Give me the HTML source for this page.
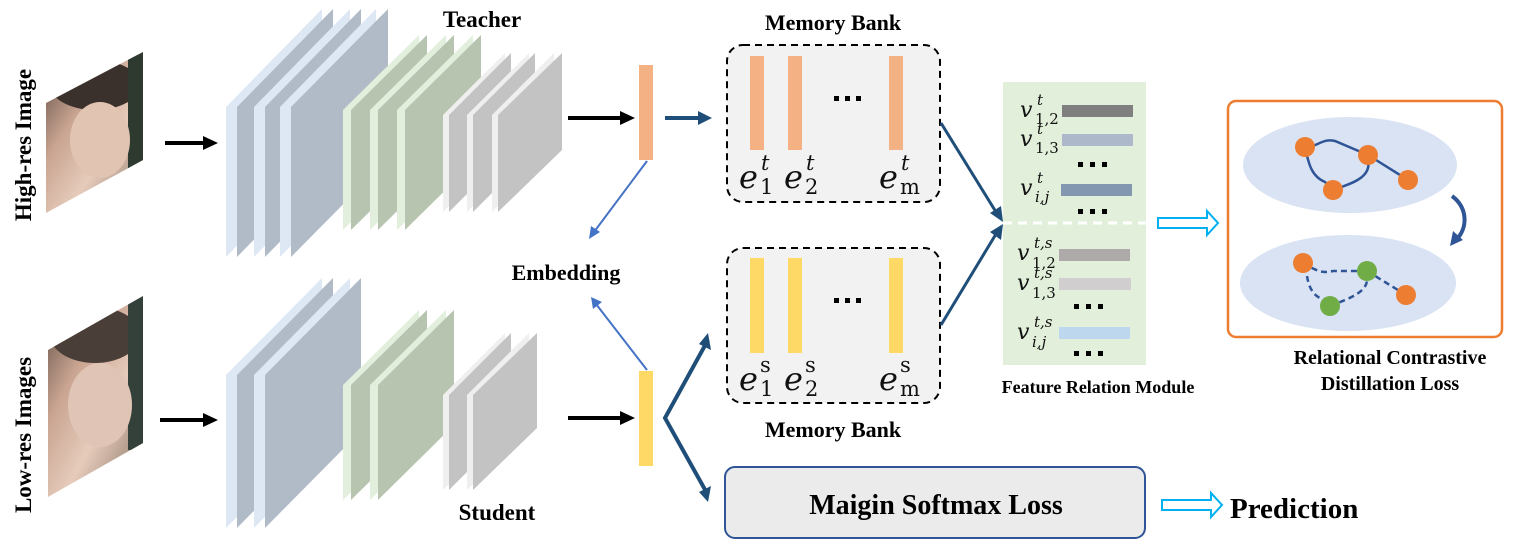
<!DOCTYPE html>
<html><head><meta charset="utf-8"><style>
html,body{margin:0;padding:0;background:#fff;}
svg{display:block;}
.b{font-family:"Liberation Serif",serif;font-weight:bold;fill:#000;}
.m{font-family:"DejaVu Serif","Liberation Serif",serif;font-style:italic;fill:#111;}
.n{font-style:normal;}
</style></head><body>
<svg width="1529" height="557" viewBox="0 0 1529 557" xmlns="http://www.w3.org/2000/svg">
<defs>
<linearGradient id="face" x1="0" y1="0" x2="1" y2="1">
<stop offset="0" stop-color="#4a3d36"/><stop offset="0.35" stop-color="#c9a491"/><stop offset="0.6" stop-color="#e6cbbb"/><stop offset="0.85" stop-color="#a08a7a"/><stop offset="1" stop-color="#5d6a5a"/></linearGradient>
<clipPath id="c1"><polygon points="46,103 143,52 143,160 46,213"/></clipPath>
<clipPath id="c2"><polygon points="48,350 143,296 143,443 48,497"/></clipPath>
</defs>
<text class="b" font-size="23" transform="translate(31,145) rotate(-90)" text-anchor="middle">High-res Image</text>
<text class="b" font-size="23" transform="translate(31,435) rotate(-90)" text-anchor="middle">Low-res Images</text>
<g clip-path="url(#c1)">
<rect x="40" y="50" width="110" height="170" fill="url(#face)"/>
<ellipse cx="95" cy="85" rx="45" ry="25" fill="#3a302c"/>
<rect x="128" y="50" width="16" height="120" fill="#2e3a30"/>
<ellipse cx="100" cy="140" rx="30" ry="38" fill="#e2c4b3"/>
</g>
<g clip-path="url(#c2)">
<rect x="40" y="290" width="110" height="210" fill="url(#face)"/>
<ellipse cx="95" cy="335" rx="45" ry="28" fill="#4a3e38"/>
<rect x="128" y="290" width="16" height="160" fill="#34403a"/>
<ellipse cx="100" cy="405" rx="32" ry="42" fill="#e0c4b5"/>
</g>
<line x1="165" y1="143" x2="205" y2="143" stroke="#000" stroke-width="4"/>
<polygon points="218,143 203,136 203,150" fill="#000"/>
<line x1="160" y1="420" x2="205" y2="420" stroke="#000" stroke-width="4"/>
<polygon points="218,420 203,413 203,427" fill="#000"/>
<g>
<polygon points="226,107 322,9 322,159 226,257" fill="#dde8f4"/><polygon points="237,107 333,9 333,159 237,257" fill="#b0bbc7"/>
<polygon points="254,107 350,9 350,159 254,257" fill="#dde8f4"/><polygon points="265,107 361,9 361,159 265,257" fill="#b0bbc7"/>
<polygon points="280,107 376,9 376,159 280,257" fill="#dde8f4"/><polygon points="291,107 388,9 388,159 291,257" fill="#b0bbc7"/>
<polygon points="343,110 419,35 419,155 343,230" fill="#e2efdc"/><polygon points="351,110 427,35 427,155 351,230" fill="#b6c4b0"/>
<polygon points="370,110 446,35 446,155 370,230" fill="#e2efdc"/><polygon points="378,110 454,35 454,155 378,230" fill="#b6c4b0"/>
<polygon points="397,110 473,35 473,155 397,230" fill="#e2efdc"/><polygon points="405,110 481,35 481,155 405,230" fill="#b6c4b0"/>
<polygon points="443,115 505,53 505,150 443,212" fill="#efefef"/><polygon points="449,115 511,53 511,150 449,212" fill="#c3c3c3"/>
<polygon points="467,115 529,53 529,150 467,212" fill="#efefef"/><polygon points="473,115 535,53 535,150 473,212" fill="#c3c3c3"/>
<polygon points="492,115 554,53 554,150 492,212" fill="#efefef"/><polygon points="498,115 562,53 562,150 498,212" fill="#c3c3c3"/>
</g>
<g>
<polygon points="226,375 322,278 322,431 226,528" fill="#dde8f4"/><polygon points="237,375 333,278 333,431 237,528" fill="#b0bbc7"/>
<polygon points="254,375 350,278 350,431 254,528" fill="#dde8f4"/><polygon points="265,375 361,278 361,431 265,528" fill="#b0bbc7"/>
<polygon points="343,385 419,310 419,425 343,500" fill="#e2efdc"/><polygon points="351,385 427,310 427,425 351,500" fill="#b6c4b0"/>
<polygon points="370,385 446,310 446,425 370,500" fill="#e2efdc"/><polygon points="378,385 454,310 454,425 378,500" fill="#b6c4b0"/>
<polygon points="443,395 505,333 505,428 443,490" fill="#efefef"/><polygon points="449,395 511,333 511,428 449,490" fill="#c3c3c3"/>
<polygon points="467,395 529,333 529,428 467,490" fill="#efefef"/><polygon points="473,395 537,333 537,428 473,490" fill="#c3c3c3"/>
</g>
<text class="b" font-size="23" x="482" y="27" text-anchor="middle">Teacher</text>
<text class="b" font-size="23" x="497" y="520" text-anchor="middle">Student</text>
<text class="b" font-size="22" x="566" y="280" text-anchor="middle">Embedding</text>
<line x1="568" y1="118" x2="622" y2="118" stroke="#000" stroke-width="4"/>
<polygon points="635,118 620,111 620,125" fill="#000"/>
<line x1="568" y1="418" x2="622" y2="418" stroke="#000" stroke-width="4"/>
<polygon points="635,418 620,411 620,425" fill="#000"/>
<rect x="639" y="65" width="14" height="95" fill="#f4b183"/>
<rect x="639" y="371" width="14" height="95" fill="#ffd966"/>
<line x1="647" y1="161" x2="594" y2="232" stroke="#4472c4" stroke-width="2"/>
<polygon points="589,239 591,226 600,232" fill="#4472c4"/>
<line x1="647" y1="370" x2="596" y2="304" stroke="#4472c4" stroke-width="2"/>
<polygon points="591,297 602,302 593,309" fill="#4472c4"/>
<line x1="665" y1="118" x2="700" y2="118" stroke="#1f4e79" stroke-width="4"/>
<polygon points="712,118 698,111 698,125" fill="#1f4e79"/>
<polyline points="708,340 665,418 708,495" fill="none" stroke="#1f4e79" stroke-width="4"/>
<polygon points="708,333 711,350 699,344" fill="#1f4e79"/>
<polygon points="708,502 699,492 711,486" fill="#1f4e79"/>
<text class="b" font-size="22" x="833" y="30" text-anchor="middle">Memory Bank</text>
<rect x="727" y="45" width="213" height="157" rx="16" fill="#f2f2f2" stroke="#000" stroke-width="2" stroke-dasharray="7,5"/>
<rect x="750" y="56" width="14" height="94" fill="#f4b183"/><rect x="788" y="56" width="14" height="94" fill="#f4b183"/><rect x="889" y="56" width="14" height="94" fill="#f4b183"/>
<rect x="727" y="248" width="213" height="155" rx="16" fill="#f2f2f2" stroke="#000" stroke-width="2" stroke-dasharray="7,5"/>
<rect x="750" y="258" width="14" height="95" fill="#ffd966"/><rect x="788" y="258" width="14" height="95" fill="#ffd966"/><rect x="889" y="258" width="14" height="95" fill="#ffd966"/>
<g fill="#000"><rect x="834" y="96" width="5" height="5"/><rect x="845" y="96" width="5" height="5"/><rect x="856" y="96" width="5" height="5"/>
<rect x="834" y="298" width="5" height="5"/><rect x="845" y="298" width="5" height="5"/><rect x="856" y="298" width="5" height="5"/></g>
<g class="m">
<text font-size="32" x="739" y="188">e</text><text font-size="21" x="761" y="170">t</text><text class="n" font-size="21" x="760" y="194">1</text>
<text font-size="32" x="784" y="188">e</text><text font-size="21" x="806" y="170">t</text><text class="n" font-size="21" x="805" y="194">2</text>
<text font-size="32" x="879" y="188">e</text><text font-size="21" x="901" y="170">t</text><text class="n" font-size="21" x="900" y="194">m</text>
<text font-size="32" x="739" y="390">e</text><text class="n" font-size="21" x="760" y="372">s</text><text class="n" font-size="21" x="760" y="396">1</text>
<text font-size="32" x="784" y="390">e</text><text class="n" font-size="21" x="805" y="372">s</text><text class="n" font-size="21" x="805" y="396">2</text>
<text font-size="32" x="879" y="390">e</text><text class="n" font-size="21" x="900" y="372">s</text><text class="n" font-size="21" x="900" y="396">m</text>
</g>
<text class="b" font-size="22" x="833" y="437" text-anchor="middle">Memory Bank</text>
<line x1="941" y1="123" x2="996" y2="212" stroke="#1f4e79" stroke-width="3"/>
<polygon points="1003,222 990,213 1001,206" fill="#1f4e79"/>
<line x1="941" y1="325" x2="996" y2="234" stroke="#1f4e79" stroke-width="3"/>
<polygon points="1003,224 1001,240 990,232" fill="#1f4e79"/>
<rect x="1003" y="82" width="143" height="283" fill="#e2efda"/>
<line x1="1003" y1="223" x2="1146" y2="223" stroke="#fff" stroke-width="3" stroke-dasharray="9,6"/>
<g class="m" font-size="22">
<text x="1020" y="117">v</text><text x="1037" y="105" font-size="15">t</text><text class="n" x="1035" y="124" font-size="15">1,2</text>
<text x="1020" y="146">v</text><text x="1037" y="134" font-size="15">t</text><text class="n" x="1035" y="153" font-size="15">1,3</text>
<text x="1020" y="195">v</text><text x="1037" y="183" font-size="15">t</text><text x="1035" y="202" font-size="15">i,j</text>
<text x="1017" y="260">v</text><text x="1034" y="248" font-size="15">t,s</text><text class="n" x="1032" y="268" font-size="15">1,2</text>
<text x="1017" y="290">v</text><text x="1034" y="278" font-size="15">t,s</text><text class="n" x="1032" y="298" font-size="15">1,3</text>
<text x="1017" y="339">v</text><text x="1034" y="327" font-size="15">t,s</text><text x="1032" y="347" font-size="15">i,j</text>
</g>
<rect x="1062" y="105" width="71" height="12" fill="#7f7f7f"/>
<rect x="1062" y="134" width="71" height="12" fill="#adb9ca"/>
<rect x="1061" y="184" width="71" height="12" fill="#8497b0"/>
<rect x="1059" y="249" width="71" height="12" fill="#aeaaaa"/>
<rect x="1059" y="278" width="72" height="12" fill="#d0cece"/>
<rect x="1059" y="327" width="71" height="12" fill="#bdd7ee"/>
<g fill="#000"><rect x="1078" y="162" width="5" height="5"/><rect x="1090" y="162" width="5" height="5"/><rect x="1102" y="162" width="5" height="5"/>
<rect x="1078" y="209" width="5" height="5"/><rect x="1090" y="209" width="5" height="5"/><rect x="1102" y="209" width="5" height="5"/>
<rect x="1074" y="304" width="5" height="5"/><rect x="1086" y="304" width="5" height="5"/><rect x="1098" y="304" width="5" height="5"/>
<rect x="1074" y="351" width="5" height="5"/><rect x="1086" y="351" width="5" height="5"/><rect x="1098" y="351" width="5" height="5"/></g>
<text class="b" font-size="18" x="1098" y="393" text-anchor="middle">Feature Relation Module</text>
<polygon points="1158,218 1207,218 1207,211 1218,223 1207,235 1207,228 1158,228" fill="#fff" stroke="#00b0f0" stroke-width="2"/>
<polygon points="1162,500 1211,500 1211,493 1222,505 1211,517 1211,510 1162,510" fill="#fff" stroke="#00b0f0" stroke-width="2"/>
<rect x="1228" y="101" width="274" height="236" rx="8" fill="#fff" stroke="#ed7d31" stroke-width="2.5"/>
<ellipse cx="1350" cy="165" rx="107" ry="48" fill="#dae3f3"/>
<ellipse cx="1348" cy="283" rx="108" ry="48" fill="#dae3f3"/>
<path d="M1305,147 C1318,147 1322,138 1335,141 L1368,155 M1368,155 L1408,180 M1305,147 C1308,160 1310,176 1325,182 L1333,190 M1333,190 C1350,184 1372,178 1368,160" fill="none" stroke="#2f5597" stroke-width="2.5"/>
<path d="M1303,263 C1315,270 1322,274 1333,271 L1367,271 M1367,271 L1406,295 M1306,266 C1307,282 1310,296 1325,300 L1330,306 M1330,306 C1350,298 1370,292 1367,275" fill="none" stroke="#2f5597" stroke-width="2.5" stroke-dasharray="6,4"/>
<g fill="#ed7d31"><circle cx="1305" cy="147" r="10"/><circle cx="1368" cy="155" r="10"/><circle cx="1333" cy="190" r="10"/><circle cx="1408" cy="180" r="10"/>
<circle cx="1303" cy="263" r="10"/><circle cx="1406" cy="295" r="10"/></g>
<g fill="#70ad47"><circle cx="1367" cy="271" r="10"/><circle cx="1330" cy="306" r="10"/></g>
<path d="M1452,196 C1468,208 1468,228 1456,240" fill="none" stroke="#2f5597" stroke-width="4"/>
<polygon points="1450,246 1453,231 1463,240" fill="#2f5597"/>
<text class="b" font-size="20" x="1390" y="364" text-anchor="middle">Relational  Contrastive</text>
<text class="b" font-size="20" x="1390" y="390" text-anchor="middle">Distillation  Loss</text>
<rect x="725" y="467" width="420" height="71" rx="10" fill="#ebebeb" stroke="#2f5597" stroke-width="2"/>
<text class="b" font-size="28" x="936" y="514" text-anchor="middle">Maigin Softmax Loss</text>
<text class="b" font-size="29" x="1230" y="518">Prediction</text>
</svg>
</body></html>
